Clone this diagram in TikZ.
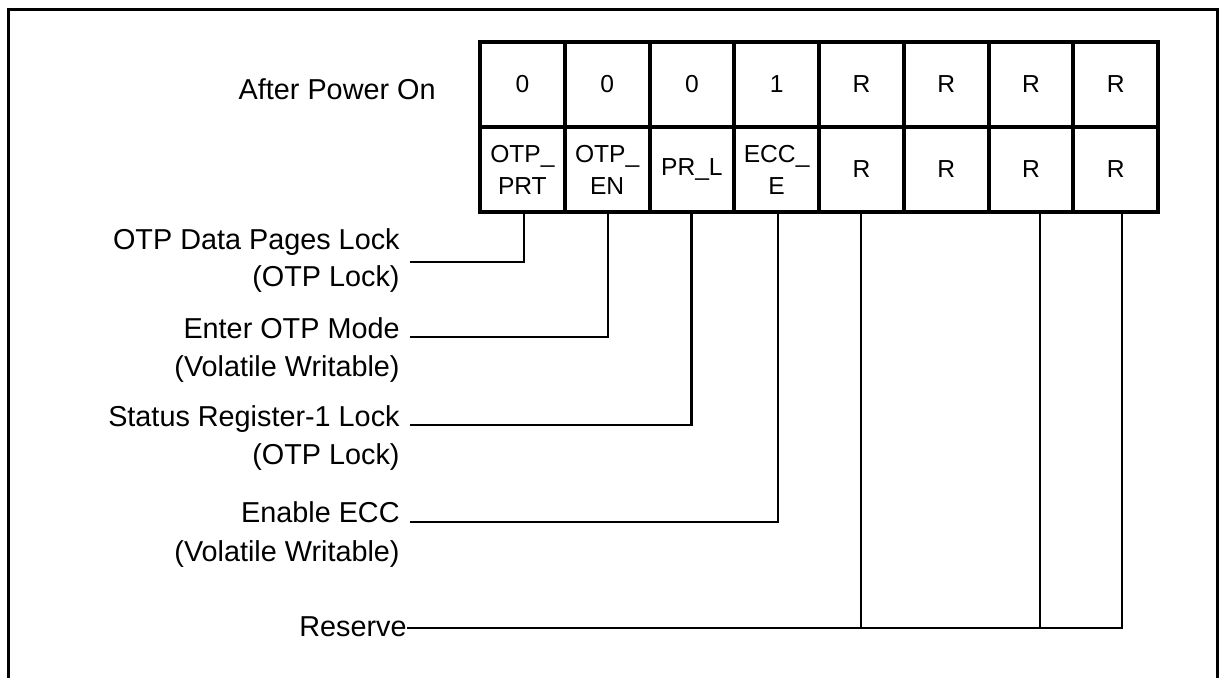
\documentclass[tikz,border=0pt]{standalone}
\usepackage{fontspec}
\setmainfont{Liberation Sans}
\begin{document}
\begin{tikzpicture}[x=0.5pt,y=-0.5pt,
  cell/.style={draw, line width=2pt, minimum width=42.375pt, minimum height=42.5pt,
    inner sep=0pt, align=center, font=\fontsize{12.3}{16}\selectfont},
  lbl/.style={anchor=base east, inner sep=0pt, font=\fontsize{14.4}{16}\selectfont},
  lead/.style={line width=1.4pt},
  rlead/.style={line width=1.1pt},
  frameline/.style={line width=1.5pt}]
\useasboundingbox (0,0) rectangle (1221,678);
\draw[frameline] (8,678) -- (8,10) -- (1217,10) -- (1217,678);

% top row
\foreach \i/\t in {0/0,1/0,2/0,3/1,4/R,5/R,6/R,7/R}{
  \node[cell] (c\i) at ({480+84.75*(\i+0.5)},84.5) {\t};
}
% bottom row
\foreach \i/\t in {0/{OTP\_\\PRT},1/{OTP\_\\EN},2/{PR\_L},3/{ECC\_\\E},4/R,5/R,6/R,7/R}{
  \node[cell] (b\i) at ({480+84.75*(\i+0.5)},169.5) {\t};
}

\node[lbl] (apo) at (436,100) {After Power On};

\node[lbl] (l1a) at (400,250) {OTP Data Pages Lock};
\node[lbl] (l1b) at (400,287) {(OTP Lock)};
\node[lbl] (l2a) at (400,339) {Enter OTP Mode};
\node[lbl] (l2b) at (400,377) {(Volatile Writable)};
\node[lbl] (l3a) at (400,427) {Status Register-1 Lock};
\node[lbl] (l3b) at (400,465) {(OTP Lock)};
\node[lbl] (l4a) at (400,523) {Enable ECC};
\node[lbl] (l4b) at (400,561) {(Volatile Writable)};
\node[lbl] (l5) at (407,636) {Reserve};

\coordinate (e1) at (410,262);
\coordinate (e2) at (410,337);
\coordinate (e3) at (410,425);
\coordinate (e4) at (410,522);
\coordinate (e5) at (407,628);

\draw[lead] ([xshift=0.8pt]b0.south) |- (e1);
\draw[lead] ([xshift=0.4pt]b1.south) |- (e2);
\draw[lead] (b2.south) |- (e3);
\draw[lead] ([xshift=0.7pt]b3.south) |- (e4);
\draw[lead] (e5) -| ([xshift=3.2pt]b7.south);
\draw[rlead] (b4.south) -- (b4.south |- e5);
\draw[rlead] ([xshift=4.5pt]b6.south) -- ([xshift=4.5pt]b6.south |- e5);
\end{tikzpicture}
\end{document}
